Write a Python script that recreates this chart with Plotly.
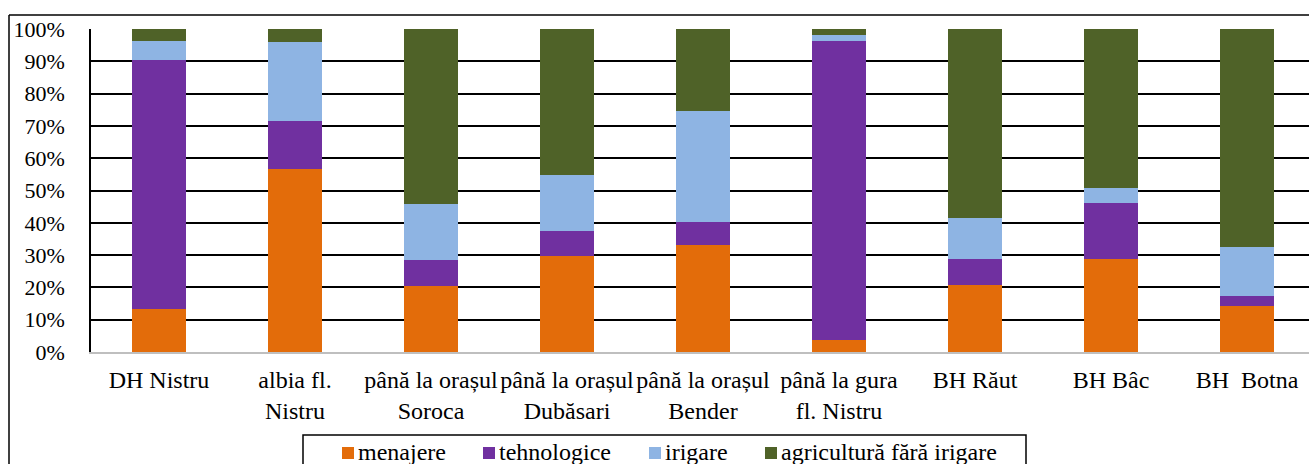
import plotly.graph_objects as go

# Water use structure by river basin section (shares, %)
categories = [
    "DH Nistru",
    "albia fl.<br>Nistru",
    "până la orașul<br>Soroca",
    "până la orașul<br>Dubăsari",
    "până la orașul<br>Bender",
    "până la gura<br>fl. Nistru",
    "BH Răut",
    "BH Bâc",
    "BH\u00a0 Botna",
]
menajere = [13.4, 56.8, 20.4, 29.6, 33.1, 3.7, 20.7, 28.8, 14.3]
tehnologice = [77.0, 14.6, 8.1, 7.8, 7.1, 92.7, 8.1, 17.4, 3.1]
irigare = [6.0, 24.6, 17.2, 17.3, 34.4, 1.8, 12.8, 4.7, 15.1]
agricultura = [3.6, 4.0, 54.3, 45.3, 25.4, 1.8, 58.4, 49.1, 67.5]

series_names = ["menajere", "tehnologice", "irigare", "agricultură fără irigare"]
series_values = [menajere, tehnologice, irigare, agricultura]
colors = ["#E36C0A", "#7030A0", "#8EB4E3", "#4F6228"]

y_ticks = [0, 10, 20, 30, 40, 50, 60, 70, 80, 90, 100]

FONT = "Liberation Serif"

fig = go.Figure()
for name, vals, col in zip(series_names, series_values, colors):
    fig.add_trace(go.Bar(
        x=list(range(len(categories))),
        y=vals,
        name=name,
        marker=dict(color=col, line=dict(width=0)),
        showlegend=False,
    ))

W, H = 1309, 464
L, R, T, B = 91, 0, 29, 112
plot_w = W - L - R
plot_h = H - T - B
cat_px = 136  # spacing between category centres


def px_x(px):
    return (px - L) / plot_w


def px_y(py):
    return (T + plot_h - py) / plot_h


fig.update_layout(
    width=W, height=H,
    margin=dict(l=L, r=R, t=T, b=B, autoexpand=False),
    barmode="stack",
    bargap=0.6,
    plot_bgcolor="white",
    paper_bgcolor="white",
    font=dict(family=FONT, size=22, color="black"),
    showlegend=False,
    xaxis=dict(
        tickmode="array",
        tickvals=list(range(len(categories))),
        ticktext=categories,
        range=[-0.5, -0.5 + plot_w / cat_px],
        showgrid=False,
        showline=True, linecolor="#BFBFBF", linewidth=2,
        ticks="",
        automargin=False,
        ticklabelstandoff=5,
        tickfont=dict(family=FONT, size=24, color="black"),
        fixedrange=True,
    ),
    yaxis=dict(
        range=[0, 100],
        tickvals=y_ticks,
        ticktext=[f"{v}%" for v in y_ticks],
        showgrid=True, gridcolor="black", gridwidth=1.5,
        zeroline=False,
        showline=True, linecolor="black", linewidth=1.5,
        ticks="",
        automargin=False,
        ticklabelstandoff=20,
        tickfont=dict(family=FONT, size=22, color="black"),
        fixedrange=True,
    ),
)

# outer chart frame (left and top edges visible)
fig.add_shape(type="line", xref="paper", yref="paper",
              x0=px_x(9), x1=1.05, y0=px_y(15), y1=px_y(15),
              line=dict(color="black", width=1.5))
fig.add_shape(type="line", xref="paper", yref="paper",
              x0=px_x(9), x1=px_x(9), y0=px_y(15), y1=px_y(520),
              line=dict(color="black", width=1.5))

# legend: framed row of colour keys with series names
fig.add_shape(type="rect", xref="paper", yref="paper",
              x0=px_x(303), x1=px_x(1026), y0=px_y(435), y1=px_y(520),
              line=dict(color="black", width=1.5), fillcolor="white")
key_left = [342, 483, 649, 765]
for name, col, kx in zip(series_names, colors, key_left):
    fig.add_shape(type="rect", xref="paper", yref="paper",
                  x0=px_x(kx), x1=px_x(kx + 12), y0=px_y(459), y1=px_y(447),
                  line=dict(width=0), fillcolor=col)
    fig.add_annotation(xref="paper", yref="paper",
                       x=px_x(kx + 14), y=px_y(452),
                       xanchor="left", yanchor="middle",
                       text=name, showarrow=False,
                       font=dict(family=FONT, size=24, color="black"))

fig.write_html("out.html")
